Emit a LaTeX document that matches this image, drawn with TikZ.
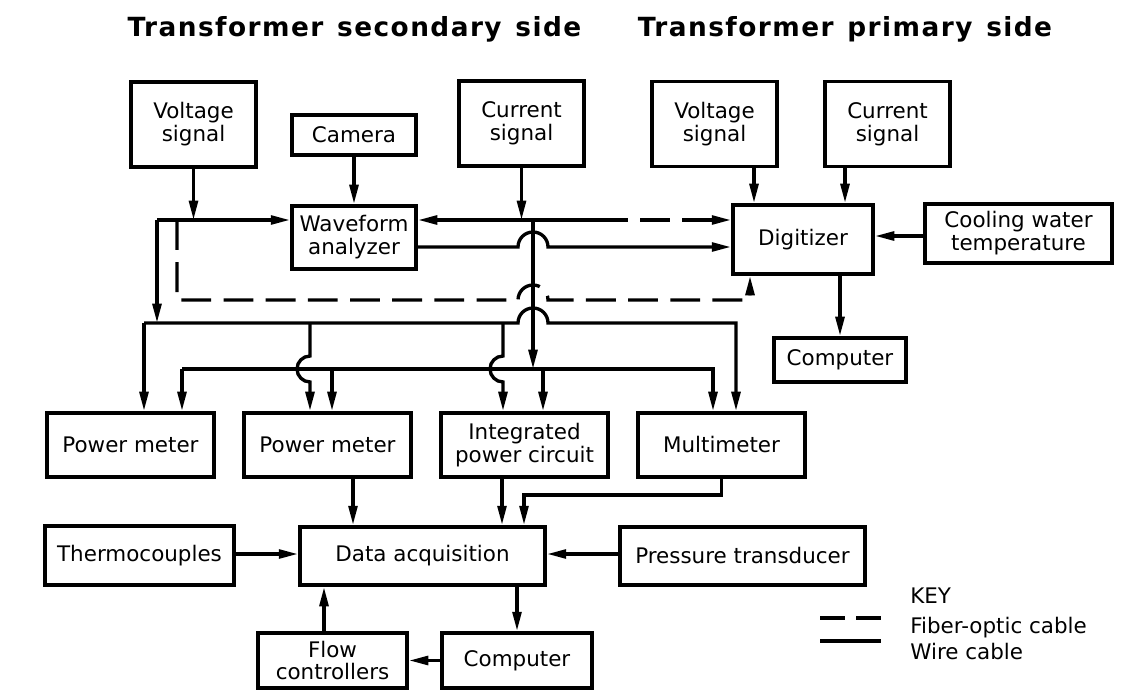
\documentclass[tikz,border=0pt]{standalone}
\usepackage{fontspec}
\setmainfont{DejaVu Sans}
\newfontfamily\titlefont{DejaVu Sans Bold}[LetterSpace=5.5,WordSpace=1.3]
\usetikzlibrary{arrows.meta}

\begin{document}
\begin{tikzpicture}[x=0.02cm, y=0.02cm,
		blk/.style={draw, line width=2.2pt, align=center, inner sep=1pt, font=\fontsize{12.2}{13}\selectfont},
		sigbox/.style={blk, minimum width=2.5cm, minimum height=1.7cm},
		meterbox/.style={blk, minimum width=3.34cm, minimum height=1.28cm},
		wire/.style={line width=1.9pt},
		fiber/.style={line width=1.9pt, dash pattern=on 17pt off 7pt},
		keytext/.style={anchor=base west, inner sep=0pt, font=\fontsize{12.2}{13}\selectfont},
		>={Triangle[length=11pt,width=5pt]}]
	\useasboundingbox (0,0) rectangle (1148,-692);
	% titles
	\node[anchor=base, font=\titlefont\fontsize{15}{18}\selectfont] (tsec) at (354.5,-37) {Transformer secondary side};
	\node[anchor=base, font=\titlefont\fontsize{15}{18}\selectfont] (tpri) at (845,-37) {Transformer primary side};
	% top row
	\node[sigbox] (vs1) at (193.5,-124.5) {Voltage\\signal};
	\node[blk, minimum width=2.48cm, minimum height=0.8cm] (cam) at (354,-135) {Camera};
	\node[sigbox] (cs1) at (521.5,-123.5) {Current\\signal};
	\node[sigbox] (vs2) at (714.5,-124) {Voltage\\signal};
	\node[sigbox] (cs2) at (887.5,-124) {Current\\signal};
	\node[blk, minimum width=2.48cm, minimum height=1.26cm] (wfa) at (354,-237.5) {Waveform\\analyzer};
	\node[blk, minimum width=2.8cm, minimum height=1.38cm] (dig) at (803,-239.5) {Digitizer};
	\node[blk, minimum width=3.74cm, minimum height=1.18cm] (cool) at (1018.5,-233.5) {Cooling water\\temperature};
	\node[blk, minimum width=2.64cm, minimum height=0.88cm] (cpr) at (840,-360) {Computer};
	% meters
	\node[meterbox] (pm1) at (130.5,-445) {Power meter};
	\node[meterbox] (pm2) at (327.5,-445) {Power meter};
	\node[meterbox] (ipc) at (524.5,-445) {Integrated\\power circuit};
	\node[meterbox] (mm) at (721.5,-445) {Multimeter};
	% acquisition
	\node[blk, minimum width=3.78cm, minimum height=1.18cm] (tc) at (139.5,-555.5) {Thermocouples};
	\node[blk, minimum width=4.9cm, minimum height=1.16cm] (da) at (422.5,-556) {Data acquisition};
	\node[blk, minimum width=4.9cm, minimum height=1.16cm] (pt) at (742.5,-556) {Pressure transducer};
	\node[blk, minimum width=2.98cm, minimum height=1.1cm] (fc) at (332.5,-660.5) {Flow\\controllers};
	\node[blk, minimum width=3cm, minimum height=1.1cm] (cpb) at (517,-660.5) {Computer};
	% key
	\node[keytext] (key) at (910,-603) {KEY};
	\node[keytext] (kfib) at (910,-633) {Fiber-optic cable};
	\node[keytext] (kwire) at (910,-659) {Wire cable};

	% junctions
	\coordinate (va) at (193.5,-220);
	\coordinate (vl) at (157,-220);
	\coordinate (fa) at (177,-220);
	\coordinate (ca) at (521.5,-220);
	\coordinate (cv) at (533,-220);
	\coordinate (fd) at (598,-220);
	\coordinate (vb) at (144,-323);
	\coordinate (ib) at (182,-369);

	% secondary side
	\draw[wire,->] (vs1) -- (va);
	\draw[wire,->] (cam) -- (wfa);
	\draw[wire,->] (cs1) -- (ca);
	\draw[wire,->] (vl) -- (wfa.west |- vl);
	\draw[wire,->] (vl) -- (vl |- vb);
	\draw[wire,->] (fd) -- (wfa.east |- fd);
	\draw[fiber,->] (fd) -- (dig.west |- fd);
	\draw[wire,->] (cv) -- (cv |- ib);
	\draw[wire,->] (wfa.east |- 0,-247) -- (518,-247) arc[start angle=180, end angle=0, radius=15] -- (dig.west |- 0,-247);
	\draw[fiber,->] (fa) -- (177,-300) -- (518,-300) arc[start angle=180, end angle=0, radius=15] -- (750,-300) -- (dig.south -| 750,0);

	% voltage bus
	\draw[wire,->] (vb) -- (vb |- pm1.north);
	\draw[wire,->] (vb) -- (518,-323) arc[start angle=180, end angle=0, radius=15] -- (736,-323) -- (mm.north -| 736,0);
	\draw[wire,->] (310,-323) -- (310,-356) arc[start angle=90, end angle=270, radius=13] -- (pm2.north -| 310,0);
	\draw[wire,->] (503,-323) -- (503,-356) arc[start angle=90, end angle=270, radius=13] -- (ipc.north -| 503,0);
	% current bus
	\draw[wire,->] (ib) -- (ib |- pm1.north);
	\draw[wire,->] (ib) -| (mm.north -| 713,0);
	\draw[wire,->] (332,-369) -- (pm2.north -| 332,0);
	\draw[wire,->] (543,-369) -- (ipc.north -| 543,0);

	% primary side
	\draw[wire,->] (vs2.south -| 754,0) -- (dig.north -| 754,0);
	\draw[wire,->] (cs2.south -| 845,0) -- (dig.north -| 845,0);
	\draw[wire,->] (cool.west |- 0,-236) -- (dig.east |- 0,-236);
	\draw[wire,->] (dig.south -| cpr.north) -- (cpr.north);

	% to data acquisition
	\path[wire,->]
		(pm2.south -| 353,0) edge (da.north -| 353,0)
		(ipc.south -| 502,0) edge (da.north -| 502,0)
		(tc.east |- 0,-554) edge (da.west |- 0,-554)
		(pt.west |- 0,-554) edge (da.east |- 0,-554)
		(da.south -| cpb.north) edge (cpb.north)
		(fc.north -| 324,0) edge (da.south -| 324,0)
		(cpb) edge (fc);
	\draw[wire,->] (mm.south) -- ++(0,-16) -| (da.north -| 524,0);

	% key lines
	\draw[fiber, dash pattern=on 14pt off 6.6pt] (kfib.west) ++(-90,9) -- ++(61,0);
	\draw[wire] (kwire.west) ++(-90,10) -- ++(61,0);
\end{tikzpicture}
\end{document}
